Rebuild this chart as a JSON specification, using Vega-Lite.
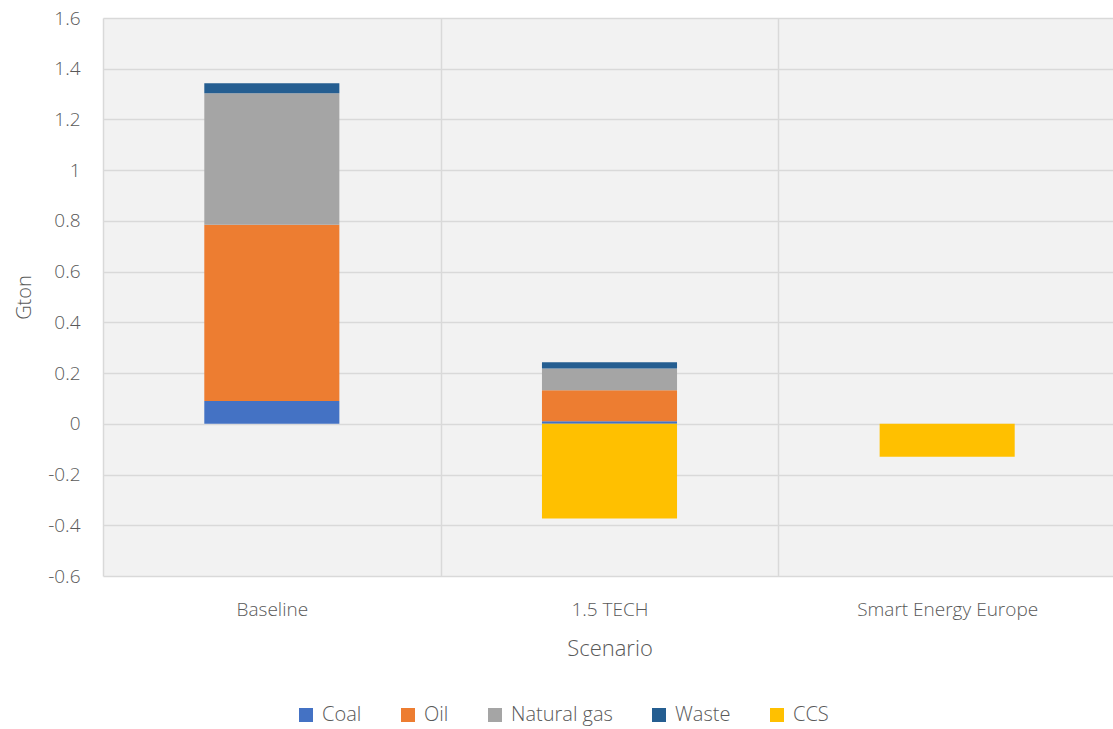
{
  "$schema": "https://vega.github.io/schema/vega-lite/v6.json",
  "autosize": {"type": "none"},
  "width": 1013,
  "height": 558,
  "padding": {"left": 103, "top": 18, "right": 0, "bottom": 153},
  "background": "#ffffff",
  "config": {
    "view": {"fill": "#f2f2f2", "stroke": null},
    "font": "Open Sans",
    "axis": {"labelFont": "Open Sans", "titleFont": "Open Sans", "labelColor": "#595959", "titleColor": "#595959", "labelFontWeight": 300, "titleFontWeight": 300}
  },
  "data": {
    "values": [
      {"scenario": "Baseline", "source": "Coal", "order": 1, "value": 0.09},
      {"scenario": "Baseline", "source": "Oil", "order": 2, "value": 0.695},
      {"scenario": "Baseline", "source": "Natural gas", "order": 3, "value": 0.518},
      {"scenario": "Baseline", "source": "Waste", "order": 4, "value": 0.04},
      {"scenario": "Baseline", "source": "CCS", "order": 5, "value": 0},
      {"scenario": "1.5 TECH", "source": "Coal", "order": 1, "value": 0.01},
      {"scenario": "1.5 TECH", "source": "Oil", "order": 2, "value": 0.122},
      {"scenario": "1.5 TECH", "source": "Natural gas", "order": 3, "value": 0.086},
      {"scenario": "1.5 TECH", "source": "Waste", "order": 4, "value": 0.025},
      {"scenario": "1.5 TECH", "source": "CCS", "order": 5, "value": -0.373},
      {"scenario": "Smart Energy Europe", "source": "Coal", "order": 1, "value": 0},
      {"scenario": "Smart Energy Europe", "source": "Oil", "order": 2, "value": 0},
      {"scenario": "Smart Energy Europe", "source": "Natural gas", "order": 3, "value": 0},
      {"scenario": "Smart Energy Europe", "source": "Waste", "order": 4, "value": 0},
      {"scenario": "Smart Energy Europe", "source": "CCS", "order": 5, "value": -0.13}
    ]
  },
  "mark": {"type": "bar", "width": {"band": 0.4}},
  "encoding": {
    "x": {
      "field": "scenario", "type": "nominal",
      "sort": ["Baseline", "1.5 TECH", "Smart Energy Europe"],
      "scale": {"paddingInner": 0, "paddingOuter": 0},
      "axis": {
        "title": "Scenario", "labelAngle": 0, "labelFontSize": 19, "titleFontSize": 22, "labelLimit": 400,
        "ticks": false, "domain": false, "grid": true, "tickBand": "extent",
        "gridColor": "#d9d9d9", "gridWidth": 1.5, "labelPadding": 24, "titlePadding": 19
      }
    },
    "y": {
      "field": "value", "type": "quantitative", "stack": "zero",
      "scale": {"domain": [-0.6, 1.6], "nice": false, "zero": false},
      "axis": {
        "title": "Gton", "titleFontSize": 20, "labelFontSize": 19,
        "values": [-0.6, -0.4, -0.2, 0, 0.2, 0.4, 0.6, 0.8, 1, 1.2, 1.4, 1.6],
        "labelExpr": "toString(round(datum.value*10)/10)",
        "ticks": false, "domain": false, "gridColor": "#d9d9d9", "gridWidth": 1.5,
        "labelPadding": 23, "titlePadding": 13
      }
    },
    "color": {
      "field": "source", "type": "nominal",
      "scale": {
        "domain": ["Coal", "Oil", "Natural gas", "Waste", "CCS"],
        "range": ["#4472c4", "#ed7d31", "#a5a5a5", "#255e91", "#ffc000"]
      },
      "legend": {
        "title": null, "orient": "none", "direction": "horizontal",
        "legendX": 193, "legendY": 687,
        "symbolType": "square", "symbolSize": 196, "symbolStrokeWidth": 0,
        "labelFontSize": 20, "labelColor": "#595959", "labelFont": "Open Sans", "labelFontWeight": 300,
        "columnPadding": 36, "labelOffset": 6
      }
    },
    "order": {"field": "order", "type": "quantitative"}
  }
}
